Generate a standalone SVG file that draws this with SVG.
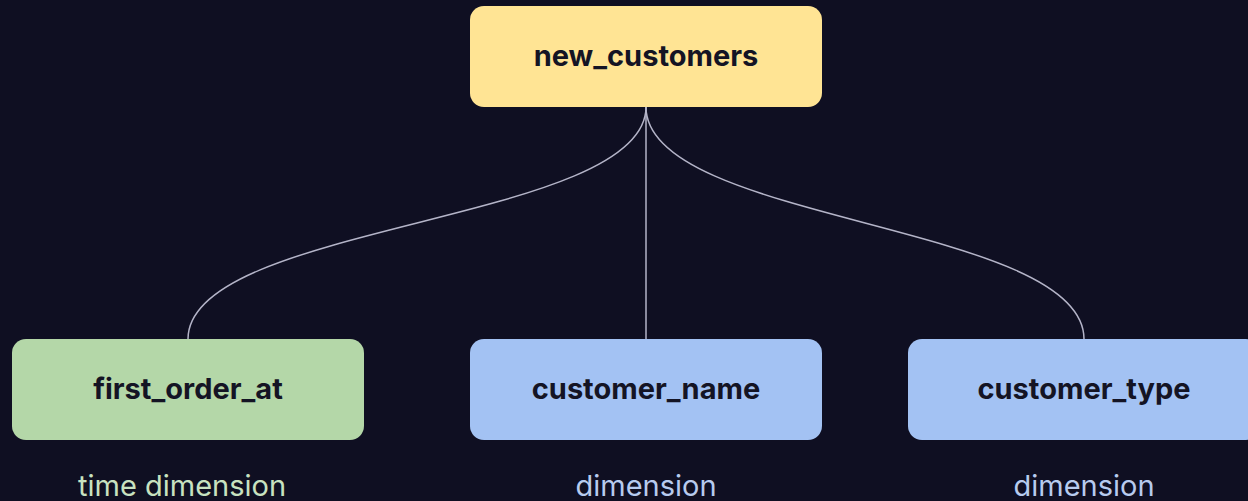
<svg xmlns="http://www.w3.org/2000/svg" width="1248" height="501" viewBox="0 0 1248 501">
<style>
.node{stroke:none}
.title{font-family:Inter,"Liberation Sans",sans-serif;font-weight:700;font-size:29px;fill:#141424;text-anchor:middle}
.sub{font-family:Inter,"Liberation Sans",sans-serif;font-size:29px;text-anchor:middle}
.edge{fill:none;stroke:#b4b4c8;stroke-width:1.5}
</style>
<rect width="1248" height="501" fill="#0f0f22"/>
<g id="connectors">
<path class="edge" d="M646,107 C646,223 188,223 188,339"/>
<path class="edge" d="M646,107 L646,339"/>
<path class="edge" d="M646,107 C646,223 1084,223 1084,339"/>
</g>
<g id="new_customers">
<rect class="node" x="470" y="6" width="352" height="101" rx="14" fill="#ffe494"/>
<text class="title" x="646" y="65.500">new_customers</text>
</g>
<g id="first_order_at">
<rect class="node" x="12" y="339" width="352" height="101" rx="14" fill="#b4d7a8"/>
<text class="title" x="188" y="398.500">first_order_at</text>
<text class="sub" x="182" y="496" fill="#c8e2c0">time dimension</text>
</g>
<g id="customer_name">
<rect class="node" x="470" y="339" width="352" height="101" rx="14" fill="#a3c2f3"/>
<text class="title" x="646" y="398.500">customer_name</text>
<text class="sub" x="646" y="496" fill="#b7cbef">dimension</text>
</g>
<g id="customer_type">
<rect class="node" x="908" y="339" width="352" height="101" rx="14" fill="#a3c2f3"/>
<text class="title" x="1084" y="398.500">customer_type</text>
<text class="sub" x="1084" y="496" fill="#b7cbef">dimension</text>
</g>
</svg>
